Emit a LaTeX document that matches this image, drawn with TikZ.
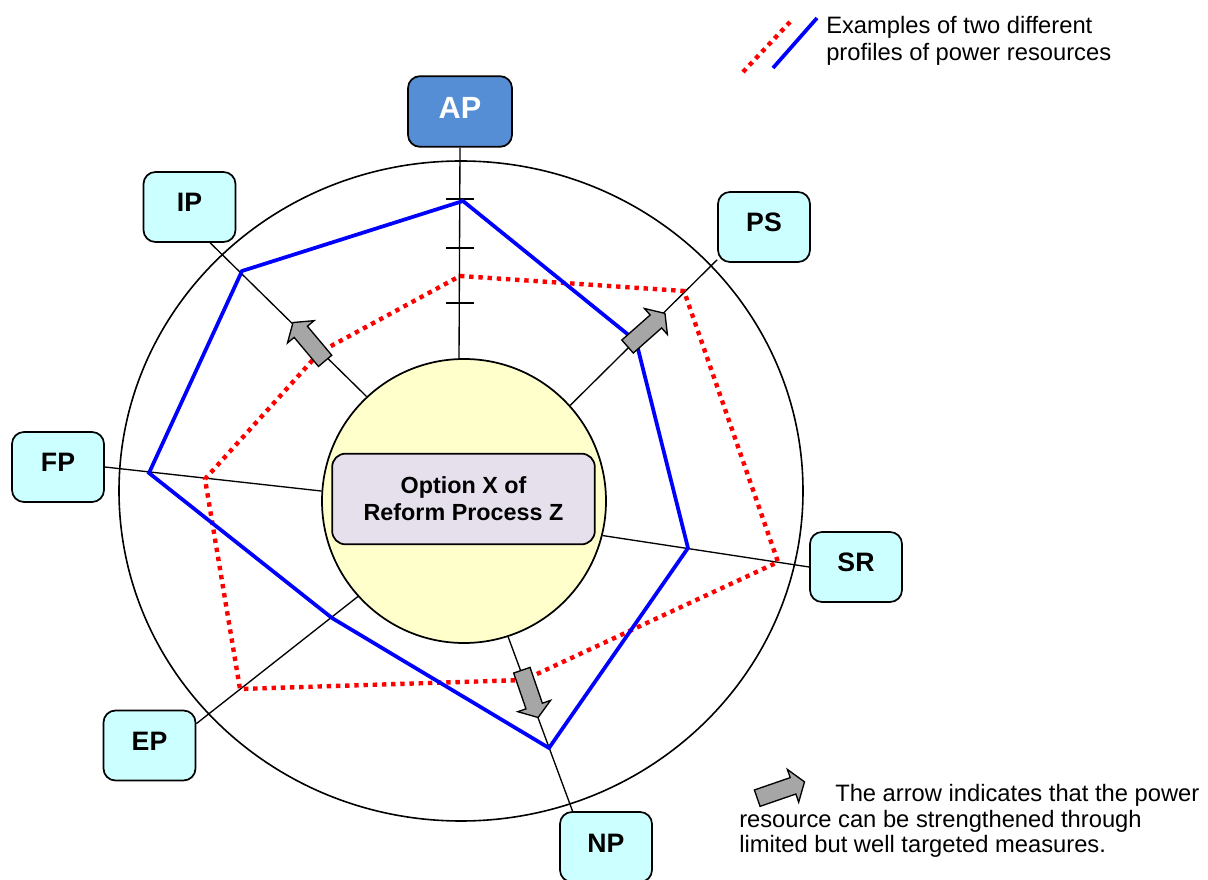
\documentclass[tikz,border=0pt]{standalone}
\usepackage{fontspec}
\setmainfont{Liberation Sans}
\usetikzlibrary{shapes.arrows, calc}
\definecolor{boxcyan}{HTML}{CCFFFF}
\definecolor{apblue}{HTML}{558ED5}
\definecolor{hubyellow}{HTML}{FFFFCC}
\definecolor{optionlilac}{HTML}{E6E0EC}
\definecolor{arrowgrey}{HTML}{A6A6A6}
\tikzset{
  powerbox/.style={
    draw, rectangle, rounded corners=9pt, fill=boxcyan, line width=1.3pt,
    minimum width=69pt, minimum height=52.5pt, inner sep=0pt,
    text height=14.5pt, text depth=7pt, % label sits a little high
    font=\fontsize{20}{24}\selectfont\bfseries
  },
  apbox/.style={
    powerbox, fill=apblue, text=white, minimum width=78pt, minimum height=53pt,
    text height=16.5pt, text depth=5.5pt,
    font=\fontsize{23}{27}\selectfont\bfseries
  },
  optionbox/.style={
    draw, rectangle, rounded corners=10pt, fill=optionlilac, line width=1.3pt,
    minimum width=197pt, minimum height=68pt, align=center,
    font=\fontsize{17.5}{20.3}\selectfont\bfseries
  },
  hubcircle/.style={
    draw, circle, fill=hubyellow, line width=1.3pt, minimum size=213pt, inner sep=0pt
  },
  ringline/.style={line width=1.2pt},
  axisline/.style={line width=1pt},
  blueprofile/.style={blue, line width=2.8pt},
  redprofile/.style={red, line width=3.3pt, dash pattern=on 3.3pt off 3.6pt},
  powerarrow/.style={
    single arrow, draw, fill=arrowgrey, line width=1pt,
    minimum height=37.5pt, inner xsep=0pt, inner ysep=6pt,
    single arrow head extend=6.5pt, single arrow tip angle=110
  },
  legendtext/.style={align=left, inner sep=0pt, anchor=north west}
}

\begin{document}
\begin{tikzpicture}[x=0.75pt, y=-0.75pt]
\useasboundingbox (0,0) rectangle (1208,880);

\draw[ringline] (461,491) ellipse [x radius=342, y radius=330];

\node[hubcircle] (hub) at (464,501) {};
\node[optionbox] (option) at (463.5,499) {Option X of\\Reform Process Z};

\node[apbox] (AP) at (460,111.5) {AP};
\node[powerbox] (IP) at (189.5,207) {IP};
\node[powerbox] (PS) at (764,227) {PS};
\node[powerbox] (FP) at (58,467) {FP};
\node[powerbox] (SR) at (856,567) {SR};
\node[powerbox] (EP) at (149.5,745.5) {EP};
\node[powerbox] (NP) at (606,847) {NP};

% axes
\draw[axisline] (hub.92) -- (AP.south);
\draw[axisline] (hub.133) -- (IP.-60);
\draw[axisline] (hub.42) -- (PS.-145);
\draw[axisline] (hub.176) -- (FP.east);
\draw[axisline] (hub.-14) -- (SR.west);
\draw[axisline] (hub.-138) -- (EP.25);
\draw[axisline] (hub.-72) -- (NP.133);
\foreach \ty in {199,248,303}
  \draw[axisline] (446,\ty) -- (474,\ty);

% profiles
\draw[redprofile] (460,276) -- (684,291) -- (778,562) -- (524,680)
  -- (240,689) -- (205,479) -- (320,352) -- cycle;
\draw[blueprofile] (463,201) -- (636,341) -- (688,548) -- (549,748)
  -- (332,618) -- (149,473) -- (242,271) -- cycle;

\node[powerarrow, rotate=130] (arrowIP) at (311,344) {};
\node[powerarrow, rotate=41.5] (arrowPS) at (644,332) {};
\node[powerarrow, rotate=-71] (arrowNP) at (529,691) {};

% legend
\draw[redprofile] (743,72) -- (790,22);
\draw[blueprofile] (773,68) -- (817,18);
\node[legendtext, font=\fontsize{17.8}{20.5}\selectfont] (profilenote) at (826,16)
  {Examples of two different\\profiles of power resources};
\node[powerarrow, rotate=19] (legendarrow) at (778,791) {};
\node[legendtext, font=\fontsize{17.8}{19.3}\selectfont] (arrownote) at (739,784)
  {\hspace*{72pt}The arrow indicates that the power\\resource can be strengthened through\\limited but well targeted measures.};
\end{tikzpicture}
\end{document}
